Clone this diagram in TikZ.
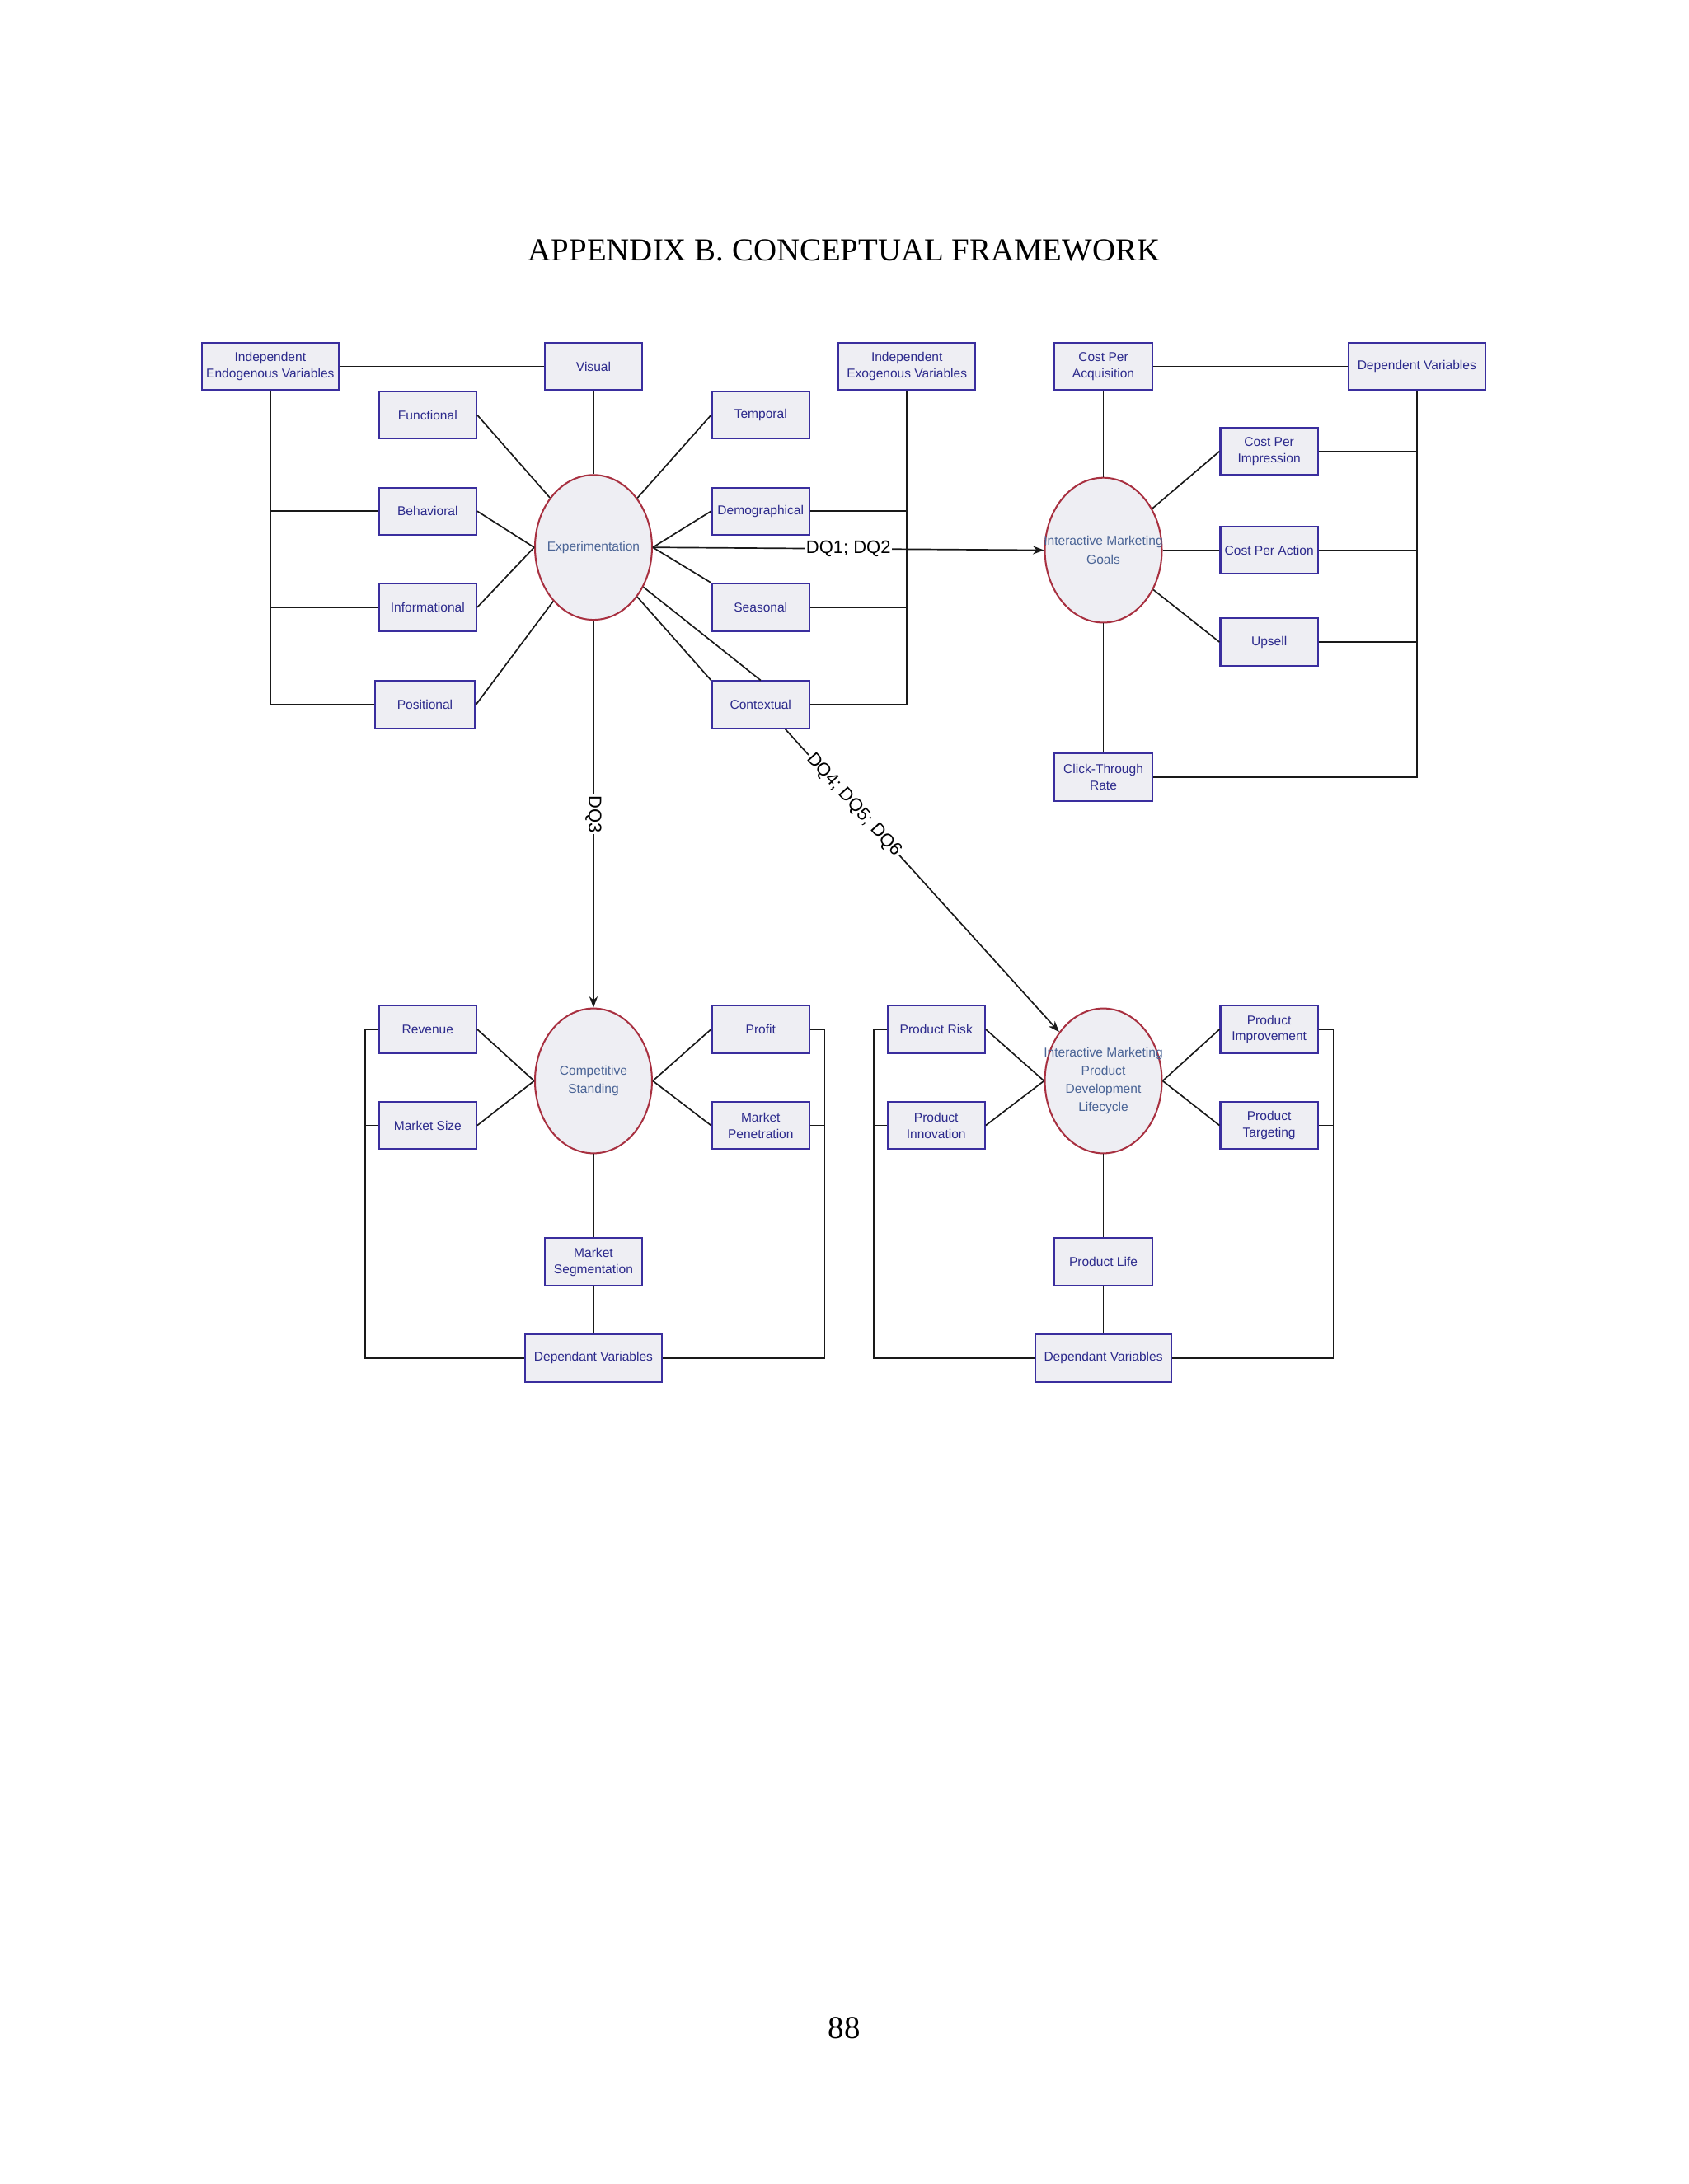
\documentclass[tikz,border=0pt]{standalone}
\usepackage{fontspec}
\setmainfont{Liberation Serif}
\newfontfamily\arialf{Liberation Sans}
\usetikzlibrary{shapes.geometric,arrows.meta,calc}
\definecolor{bxline}{HTML}{3A2E9E}
\definecolor{bxfill}{HTML}{EEEEF3}
\definecolor{bxtext}{HTML}{2C2A8C}
\definecolor{elline}{HTML}{A83040}
\definecolor{eltext}{HTML}{4A6496}
\begin{document}
\begin{tikzpicture}[x=0.5pt,y=-0.5pt,
  bx/.style={draw=bxline,fill=bxfill,text=bxtext,line width=0.6pt,minimum width=35pt,minimum height=17pt,inner sep=0.5pt,align=center,font=\arialf\fontsize{4.6}{5.9}\selectfont},
  wb/.style={bx,minimum width=49pt},
  el/.style={ellipse,draw=elline,fill=bxfill,line width=0.6pt,minimum width=42pt,minimum height=52pt,inner sep=0pt},
  elt/.style={text=eltext,align=center,inner sep=0pt,font=\arialf\fontsize{4.6}{6.6}\selectfont},
  ln/.style={draw=black!90,line width=0.5pt},
  dq/.style={font=\arialf\fontsize{6.5}{7}\selectfont,fill=white,inner sep=0.5pt},
  ar/.style={ln,-{Stealth[length=4pt,width=3pt]}}]
\useasboundingbox (0,0) rectangle (1212,1568);
\node[font=\fontsize{11.5}{13}\selectfont] (title) at (606,180) {APPENDIX B. CONCEPTUAL FRAMEWORK};
\node[font=\fontsize{11.5}{13}\selectfont] (page) at (606,1456) {88};
% top-left cluster
\node[el,label={[elt]center:Experimentation}] (exp) at (426,393) {};
\node[wb] (endo) at (194,263) {Independent\\Endogenous Variables};
\node[bx] (vis) at (426,263) {Visual};
\node[bx] (fun) at (307,298) {Functional};
\node[bx] (beh) at (307,367) {Behavioral};
\node[bx] (inf) at (307,436) {Informational};
\node[bx,minimum width=36pt] (pos) at (305,506) {Positional};
\node[wb] (exo) at (651,263) {Independent\\Exogenous Variables};
\node[bx] (tem) at (546,298) {Temporal};
\node[bx] (dem) at (546,367) {Demographical};
\node[bx] (sea) at (546,436) {Seasonal};
\node[bx] (ctx) at (546,506) {Contextual};
\coordinate (lb) at (194,506);
\coordinate (rb) at (651,506);
\draw[ln] (endo) -- (vis);
\draw[ln] (endo.south) -- (lb) -- (pos.west);
\draw[ln] (fun.west) -- (fun.west -| lb);
\draw[ln] (beh.west) -- (beh.west -| lb);
\draw[ln] (inf.west) -- (inf.west -| lb);
\draw[ln] (exo.south) -- (rb) -- (ctx.east);
\draw[ln] (tem.east) -- (tem.east -| rb);
\draw[ln] (dem.east) -- (dem.east -| rb);
\draw[ln] (sea.east) -- (sea.east -| rb);
\draw[ln] (vis) -- (exp);
\draw[ln] (fun.east) -- (exp);
\draw[ln] (beh.east) -- (exp.west);
\draw[ln] (inf.east) -- (exp.west);
\draw[ln] (pos.east) -- (exp);
\draw[ln] (tem.west) -- (exp);
\draw[ln] (dem.west) -- (exp.east);
\draw[ln] (exp.east) -- (sea.north west);
\draw[ln] (exp) -- (ctx.north);
\draw[ln] (exp) -- (ctx.north west);
% top-right cluster
\node[el,label={[elt]center:Interactive Marketing\\Goals}] (img) at (792,395) {};
\node[bx] (cpa) at (792,263) {Cost Per\\Acquisition};
\node[wb] (dv1) at (1017,263) {Dependent Variables};
\node[bx] (cpi) at (911,324) {Cost Per\\Impression};
\node[bx] (cpac) at (911,395) {Cost Per Action};
\node[bx] (ups) at (911,461) {Upsell};
\node[bx] (ctr) at (792,558) {Click-Through\\Rate};
\coordinate (rb2) at (1017,558);
\draw[ln] (cpa) -- (dv1);
\draw[ln] (dv1.south) -- (rb2) -- (ctr.east);
\draw[ln] (cpi.east) -- (cpi.east -| rb2);
\draw[ln] (cpac.east) -- (cpac.east -| rb2);
\draw[ln] (ups.east) -- (ups.east -| rb2);
\draw[ln] (cpa) -- (img);
\draw[ln] (img) -- (cpi.west);
\draw[ln] (img) -- (cpac.west);
\draw[ln] (img) -- (ups.west);
\draw[ln] (img) -- (ctr);
% bottom-left cluster
\node[el,label={[elt]center:Competitive\\Standing}] (cs) at (426,776) {};
\node[bx] (rev) at (307,739) {Revenue};
\node[bx] (msz) at (307,808) {Market Size};
\node[bx] (pro) at (546,739) {Profit};
\node[bx] (mpe) at (546,808) {Market\\Penetration};
\node[bx] (mse) at (426,906) {Market\\Segmentation};
\node[wb] (dv2) at (426,975) {Dependant Variables};
\coordinate (lb3) at (262,975);
\coordinate (rb3) at (592,975);
\draw[ln] (rev.west) -- (rev.west -| lb3) -- (lb3) -- (dv2.west);
\draw[ln] (msz.west) -- (msz.west -| lb3);
\draw[ln] (pro.east) -- (pro.east -| rb3) -- (rb3) -- (dv2.east);
\draw[ln] (mpe.east) -- (mpe.east -| rb3);
\draw[ln] (rev.east) -- (cs.west);
\draw[ln] (msz.east) -- (cs.west);
\draw[ln] (pro.west) -- (cs.east);
\draw[ln] (mpe.west) -- (cs.east);
\draw[ln] (cs) -- (mse);
\draw[ln] (mse) -- (dv2);
% bottom-right cluster
\node[el,label={[elt]center:Interactive Marketing\\Product\\Development\\Lifecycle}] (pdl) at (792,776) {};
\node[bx] (pri) at (672,739) {Product Risk};
\node[bx] (pin) at (672,808) {Product\\Innovation};
\node[bx] (pim) at (911,739) {Product\\Improvement};
\node[bx] (pta) at (911,808) {Product\\Targeting};
\node[bx] (pli) at (792,906) {Product Life};
\node[wb] (dv3) at (792,975) {Dependant Variables};
\coordinate (lb4) at (627,975);
\coordinate (rb4) at (957,975);
\draw[ln] (pri.west) -- (pri.west -| lb4) -- (lb4) -- (dv3.west);
\draw[ln] (pin.west) -- (pin.west -| lb4);
\draw[ln] (pim.east) -- (pim.east -| rb4) -- (rb4) -- (dv3.east);
\draw[ln] (pta.east) -- (pta.east -| rb4);
\draw[ln] (pri.east) -- (pdl.west);
\draw[ln] (pin.east) -- (pdl.west);
\draw[ln] (pim.west) -- (pdl.east);
\draw[ln] (pta.west) -- (pdl.east);
\draw[ln] (pdl) -- (pli);
\draw[ln] (pli) -- (dv3);
% research question arrows
\draw[ar] (exp.east) -- node[dq,pos=0.5] {DQ1; DQ2} (img.west);
\draw[ar] (exp.south) -- node[dq,pos=0.5,sloped] {DQ3} (cs.north);
\coordinate (cst) at ($(ctx.south)!0.5!(ctx.south east)$);
\draw[ar] (cst) -- node[dq,pos=0.25,sloped] {DQ4; DQ5; DQ6} (pdl);
\end{tikzpicture}
\end{document}
